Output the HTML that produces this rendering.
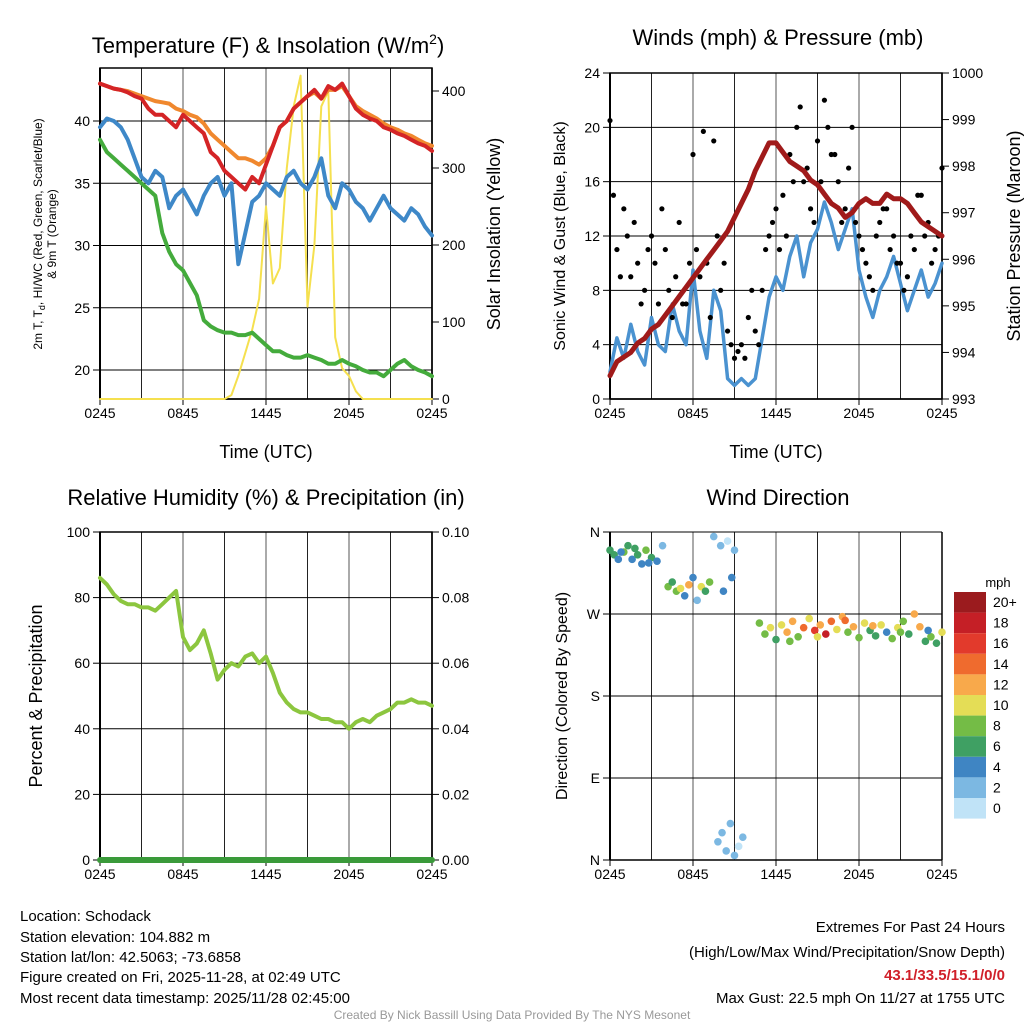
<!DOCTYPE html>
<html><head><meta charset="utf-8"><style>
html,body{margin:0;padding:0;background:#fff;}
svg{display:block;font-family:"Liberation Sans",sans-serif;}
</style></head><body>
<svg id="c" width="1024" height="1024" viewBox="0 0 1024 1024" xmlns="http://www.w3.org/2000/svg">
<rect width="1024" height="1024" fill="#fff"/>
<g id="g"></g>
<text x="268" y="53" font-size="22" text-anchor="middle">Temperature (F) &amp; Insolation (W/m<tspan font-size="14" dy="-9">2</tspan><tspan dy="9">)</tspan></text>
<text x="778" y="45" font-size="22" text-anchor="middle">Winds (mph) &amp; Pressure (mb)</text>
<text x="266" y="505" font-size="22" text-anchor="middle">Relative Humidity (%) &amp; Precipitation (in)</text>
<text x="778" y="505" font-size="22" text-anchor="middle">Wind Direction</text>
<text x="266" y="458" font-size="18" text-anchor="middle">Time (UTC)</text>
<text x="776" y="458" font-size="18" text-anchor="middle">Time (UTC)</text>
<text transform="translate(42,234) rotate(-90)" font-size="12" text-anchor="middle">2m T, T<tspan font-size="9" dy="3">d</tspan><tspan dy="-3">, HI/WC (Red, Green, Scarlet/Blue)</tspan></text>
<text transform="translate(56,234) rotate(-90)" font-size="12" text-anchor="middle">&amp; 9m T (Orange)</text>
<text transform="translate(500,234) rotate(-90)" font-size="18" text-anchor="middle">Solar Insolation (Yellow)</text>
<text transform="translate(565,236) rotate(-90)" font-size="16" text-anchor="middle">Sonic Wind &amp; Gust (Blue, Black)</text>
<text transform="translate(1020,236) rotate(-90)" font-size="18" text-anchor="middle">Station Pressure (Maroon)</text>
<text transform="translate(42,696) rotate(-90)" font-size="18" text-anchor="middle">Percent &amp; Precipitation</text>
<text transform="translate(567,696) rotate(-90)" font-size="16" text-anchor="middle">Direction (Colored By Speed)</text>
<text x="998" y="587" font-size="13" text-anchor="middle">mph</text>
<g font-size="15">
<text x="20" y="921">Location: Schodack</text>
<text x="20" y="942">Station elevation: 104.882 m</text>
<text x="20" y="962">Station lat/lon: 42.5063; -73.6858</text>
<text x="20" y="982">Figure created on Fri, 2025-11-28, at 02:49 UTC</text>
<text x="20" y="1003">Most recent data timestamp: 2025/11/28 02:45:00</text>
</g>
<g font-size="15" text-anchor="end">
<text x="1005" y="932">Extremes For Past 24 Hours</text>
<text x="1005" y="957">(High/Low/Max Wind/Precipitation/Snow Depth)</text>
<text x="1005" y="980" fill="#d0202a" font-weight="bold">43.1/33.5/15.1/0/0</text>
<text x="1005" y="1003">Max Gust: 22.5 mph On 11/27 at 1755 UTC</text>
</g>
<text x="512" y="1019" font-size="12" fill="#999" text-anchor="middle">Created By Nick Bassill Using Data Provided By The NYS Mesonet</text>
</svg>
<script>
const xLabels=["0245","0845","1445","2045","0245"];
const tempRed=[43.0,42.8,42.6,42.5,42.3,42.0,41.8,41.0,40.5,40.5,40.0,39.5,40.5,40.0,39.5,39.0,37.5,37.0,36.0,35.5,35.0,34.5,35.5,35.0,36.5,38.0,39.5,40.0,41.0,41.5,42.0,42.5,41.8,42.8,42.5,43.0,42.0,41.0,40.5,40.2,40.0,39.5,39.3,39.0,38.8,38.5,38.2,38.0,37.6];
const temp9m=[43.0,42.8,42.6,42.5,42.4,42.2,42.0,41.8,41.6,41.5,41.4,41.0,40.8,40.5,40.3,39.8,39.0,38.5,38.0,37.5,37.0,37.0,36.8,36.5,37.0,38.0,39.5,40.0,41.0,41.5,42.0,42.3,41.8,42.5,42.5,42.8,42.0,41.2,40.8,40.5,40.2,39.8,39.5,39.3,39.0,38.8,38.5,38.2,38.0];
const windChill=[39.5,40.2,40.0,39.5,38.5,37.0,35.5,35.0,36.0,35.5,33.0,34.0,34.5,33.5,32.5,34.0,35.0,35.5,34.0,35.0,28.5,31.0,33.5,34.0,35.0,34.5,34.0,35.5,36.0,35.0,34.5,35.5,37.0,34.0,33.0,35.0,34.5,33.5,33.0,32.0,33.0,34.0,33.0,32.5,32.0,33.0,32.5,31.5,30.8];
const dewpoint=[38.5,37.5,37.0,36.5,36.0,35.5,35.0,34.5,34.0,31.0,29.5,28.5,28.0,27.0,26.0,24.0,23.5,23.2,23.0,23.0,22.8,22.8,23.0,22.5,22.0,21.5,21.5,21.2,21.0,21.0,21.2,21.0,20.8,20.5,20.5,20.8,20.5,20.3,20.0,19.8,19.8,19.5,20.0,20.5,20.8,20.3,20.0,19.8,19.5];
const solar=[0,0,0,0,0,0,0,0,0,0,0,0,0,0,0,0,0,0,0,5,30,60,90,130,250,150,170,300,380,420,120,200,380,400,80,40,30,10,0,0,0,0,0,0,0,0,0,0,0];
const windSpeed=[2.0,4.5,3.0,5.5,3.5,2.5,6.0,4.0,3.5,7.0,5.0,4.0,9.5,5.0,3.0,8.0,6.5,1.5,1.0,1.5,1.0,1.5,4.5,7.5,9.0,8.0,10.5,12.0,9.0,11.5,12.5,14.5,13.0,11.0,12.5,14.0,9.5,7.5,6.0,8.0,9.0,10.5,8.5,6.5,8.0,9.5,7.5,8.5,10.0];
const gustA=[20.5,11,14,9,10,8,12,7,11,6,13,7,18,9,10,19,8,5,3,4,6,5,8,12,14,15,18,20,16,14,19,22,18,16,14,20,12,10,8,13,14,12,10,9,11,15,13,11,17];
const gustB=[15,9,12,13,7,11,10,14,8,9,7,10,11,19.7,6,12,10,4,3.5,3,8,4,11,13,11,12,16,21.5,17,13,16,20,18,13,17,13,11,9,12,14,11,10,8,12,15,12,10,12];
const pressure=[993.5,993.8,993.9,994.0,994.2,994.3,994.5,994.6,994.8,995.0,995.2,995.4,995.6,995.8,996.0,996.2,996.4,996.6,996.9,997.2,997.5,997.9,998.2,998.5,998.5,998.3,998.1,998.0,997.9,997.7,997.6,997.4,997.2,997.1,996.9,997.0,997.2,997.3,997.2,997.2,997.4,997.3,997.3,997.2,997.0,996.8,996.7,996.6,996.5];
const humidity=[86,84,81,79,78,78,77,77,76,78,80,82,68,64,66,70,63,55,58,60,59,62,63,60,62,57,51,48,46,45,45,44,43,43,42,42,40,42,43,42,44,45,46,48,48,49,48,48,47];
const precip=[0,0,0,0,0,0,0,0,0,0,0,0,0,0,0,0,0,0,0,0,0,0,0,0,0,0,0,0,0,0,0,0,0,0,0,0,0,0,0,0,0,0,0,0,0,0,0,0,0];
const dirHour=[0,0.3,0.6,1,1.3,1.6,2,2.3,2.6,3,3.4,3.8,4.2,4.5,4.8,5.1,5.4,5.7,6,6.3,6.6,6.9,7.2,7.5,8,8.5,9,7.8,8.1,8.4,8.7,9,9.3,9.6,8.2,8.8,10.8,11.2,11.6,12,12.4,12.8,13.2,13.6,14,14.4,14.8,15.2,15.6,16,16.4,16.8,17.2,17.6,18,18.4,18.8,19.2,19.6,20,20.4,20.8,21.2,21.6,22,22.4,22.8,23.2,23.6,24,13,15,17,19,21,23,0.8,1.8,2.8];
const dirDeg=[340,335,330,338,345,330,335,325,340,332,328,345,300,305,295,298,290,302,310,285,300,295,305,355,345,350,340,20,30,10,40,5,15,25,295,310,260,248,255,242,258,250,262,245,255,265,252,258,248,262,253,267,250,256,244,260,252,246,258,250,243,255,262,248,270,256,240,245,238,250,240,245,263,257,250,252,338,342,326];
const dirSpd=[5,6,4,7,5,3,6,4,7,5,3,2,8,6,7,10,4,12,3,2,9,5,7,1,2,0,1,2,1,2,2,1,0,2,4,3,7,8,10,6,9,12,11,7,14,10,16,12,18,14,9,11,8,12,7,10,5,6,9,4,8,10,7,5,11,12,6,8,5,9,8,9,13,11,8,4,4,5,4];
const cbLabels=["20+","18","16","14","12","10","8","6","4","2","0"];
const cbColors=["#9b1b1e","#c51f26","#e23a2c","#ef6b2e","#f8a94b","#e4dd56","#74bc46","#3fa063","#3f85c3","#7cb8e2","#c0e3f7"];

const NS="http://www.w3.org/2000/svg";
const G=document.getElementById('g');
function mk(tag,at,parent){const e=document.createElementNS(NS,tag);for(const k in at)e.setAttribute(k,at[k]);(parent||G).appendChild(e);return e;}
function lin(d0,d1,r0,r1){return v=>r0+(v-d0)*(r1-r0)/(d1-d0);}
function spdColor(s){let b=Math.min(10,Math.max(0,Math.floor((s+1)/2)));return cbColors[10-b];}

function frame(name,x0,y0,x1,y1,hVals,yL,leftTicks,leftLab,rightTicks,yR,rightLab,top){
  // grid
  for(let i=0;i<=8;i++){const x=x0+i*(x1-x0)/8;
    let e=mk('line',{x1:x,x2:x,y1:y0,y2:y1,stroke:(i%2==0?'#555':'#222'),'stroke-width':1});
    
    }
  hVals.forEach(v=>{let e=mk('line',{x1:x0,x2:x1,y1:yL(v),y2:yL(v),stroke:'#000','stroke-width':1});
    
    });
  // box
  let b=mk('rect',{x:x0,y:y0,width:x1-x0,height:y1-y0,fill:'none',stroke:'#000','stroke-width':top?1.5:0});
  
  
  let l=mk('line',{x1:x0,x2:x0,y1:y0,y2:y1,stroke:'#000','stroke-width':2});
  
  
  let r=mk('line',{x1:x1,x2:x1,y1:y0,y2:y1,stroke:'#000','stroke-width':1.5});
  
  
  let bt=mk('line',{x1:x0,x2:x1,y1:y1,y2:y1,stroke:'#000','stroke-width':1.5});
  
  
  leftTicks.forEach((v,i)=>{const y=yL(v);
    let t=mk('line',{x1:x0-7,x2:x0,y1:y,y2:y,stroke:'#000','stroke-width':1});
    
    
    let tx=mk('text',{x:x0-10,y:y+5,'font-size':14,'text-anchor':'end'});tx.textContent=leftLab[i];
    
    });
  rightTicks.forEach((v,i)=>{const y=yR(v);
    let t=mk('line',{x1:x1,x2:x1+7,y1:y,y2:y,stroke:'#000','stroke-width':1});
    
    
    let tx=mk('text',{x:x1+10,y:y+5,'font-size':14});tx.textContent=rightLab[i];
    
    });
  xLabels.forEach((s,i)=>{const x=x0+i*(x1-x0)/4;
    let t=mk('line',{x1:x,x2:x,y1:y1,y2:y1+6,stroke:'#000'});
    
    
    let tx=mk('text',{x:x,y:y1+19,'font-size':14,'text-anchor':'middle'});tx.textContent=s;
    
    });
}
function path(name,arr,xf,yf,color,w){
  const d=arr.map((v,i)=>(i?'L':'M')+xf(i).toFixed(1)+','+yf(v).toFixed(1)).join('');
  let p=mk('path',{d:d,fill:'none',stroke:color,'stroke-width':w,'stroke-linejoin':'round','stroke-linecap':'round'});
  
  
}
// Panel 1
(function(){const x0=100,x1=432,y0=68,y1=399;
  const yL=lin(20,40,370,121),yR=lin(0,400,399,91),xf=i=>x0+i*(x1-x0)/48;
  frame('temp-panel',x0,y0,x1,y1,[20,25,30,35,40],yL,[20,25,30,35,40],["20","25","30","35","40"],[0,100,200,300,400],yR,["0","100","200","300","400"],true);
  path('solar-line',solar,xf,yR,'#f5e04f',2);
  path('dewpoint-line',dewpoint,xf,yL,'#44ab3c',4);
  path('windchill-line',windChill,xf,yL,'#3e88c8',4);
  path('temp-9m-line',temp9m,xf,yL,'#f0882e',4);
  path('temp-2m-line',tempRed,xf,yL,'#d42426',4);
})();
// Panel 2
(function(){const x0=610,x1=942,y0=73,y1=399;
  const yL=lin(0,24,399,73),yR=lin(993,1000,399,73),xf=i=>x0+i*(x1-x0)/48;
  frame('wind-panel',x0,y0,x1,y1,[4,8,12,16,20],yL,[0,4,8,12,16,20,24],["0","4","8","12","16","20","24"],[993,994,995,996,997,998,999,1000],yR,["993","994","995","996","997","998","999","1000"],true);
  path('wind-speed-line',windSpeed,xf,yL,'#4a92d0',3.5);
  [gustA,gustB].forEach((arr,k)=>arr.forEach((v,i)=>{
    const x=x0+(i+k*0.5)*(x1-x0)/48; if(x>x1)return;
    let c=mk('circle',{cx:x,cy:yL(v),r:2.6,fill:'#000'});
    
    }));
  path('pressure-line',pressure,xf,yR,'#a01a1a',5);
})();
// Panel 3
(function(){const x0=100,x1=432,y0=532,y1=860;
  const yL=lin(0,100,860,532),yR=lin(0,0.1,860,532),xf=i=>x0+i*(x1-x0)/48;
  frame('rh-panel',x0,y0,x1,y1,[20,40,60,80],yL,[0,20,40,60,80,100],["0","20","40","60","80","100"],[0,0.02,0.04,0.06,0.08,0.1],yR,["0.00","0.02","0.04","0.06","0.08","0.10"],true);
  path('humidity-line',humidity,xf,yL,'#8cc63f',4);
  path('precip-line',precip,xf,yR,'#3a9a3a',6);
})();
// Panel 4
(function(){const x0=610,x1=942,y0=532,y1=860;
  const yL=lin(0,360,860,532),xf=h=>x0+h*(x1-x0)/24;
  frame('dir-panel',x0,y0,x1,y1,[90,180,270,360],yL,[0,90,180,270,360],["N","E","S","W","N"],[],yL,[],false);
  dirHour.forEach((h,i)=>{
    let c=mk('circle',{cx:xf(h),cy:yL(dirDeg[i]),r:3.8,fill:spdColor(dirSpd[i])});
    
    });
  cbColors.forEach((col,i)=>{const y=592+i*20.6;
    let r=mk('rect',{x:954,y:y,width:32,height:20.6,fill:col});
    
    
    let t=mk('text',{x:993,y:y+15,'font-size':14});t.textContent=cbLabels[i];
    
    });
})();
</script>
</body></html>
